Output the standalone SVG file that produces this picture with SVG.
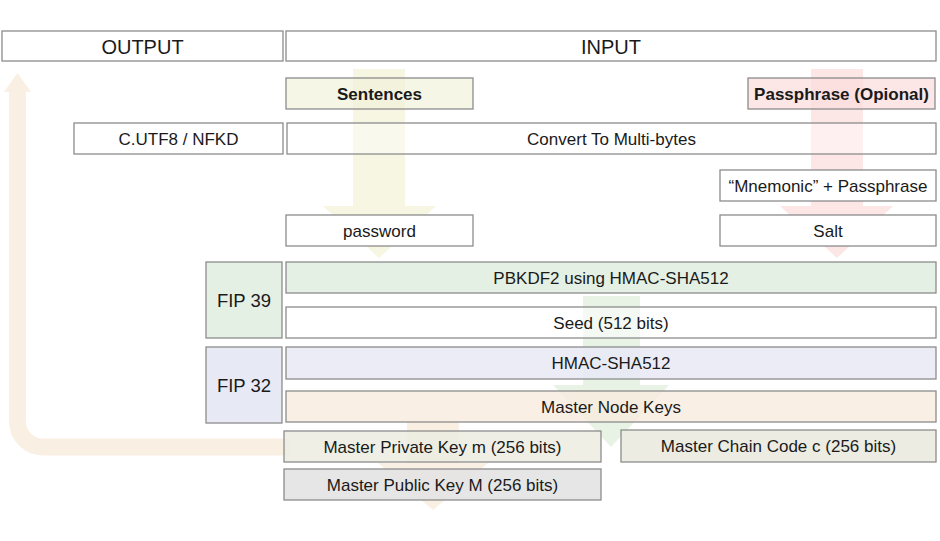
<svg xmlns="http://www.w3.org/2000/svg" width="940" height="541" viewBox="0 0 940 541">
<style>
  .box { stroke: #8c8c8c; stroke-width: 1.3; }
  .t { font-family: "Liberation Sans", Arial, sans-serif; font-size: 17px; fill: #1a1a1a; text-anchor: middle; }
  .big { font-size: 20px; }
  .fip { font-size: 18.5px; }
  .b { font-weight: bold; }
</style>
<rect width="940" height="541" fill="#ffffff"/>
<g id="connectors">
  <polygon id="arrow-sentences" points="353,69 405,69 405,206 436,206 379,258 323,206 353,206" fill="#f6f6e2"/>
  <polygon id="arrow-passphrase" points="811,69 863,69 863,206 893,206 837,258 780,206 811,206" fill="#fde6e6"/>
  <polygon id="arrow-seed" points="583,296 640,296 640,385 669,385 611,447 553,385 583,385" fill="#e8f3e6"/>
  <polygon id="arrow-keys" points="407,422 459,422 459,463 488,463 433,510 378,463 407,463" fill="#f9efe3"/>
  <path id="arrow-output" d="M 290 447 H 43 A 25.5 25.5 0 0 1 17.5 421.5 V 90" fill="none" stroke="#f9efe3" stroke-width="17"/>
  <polygon points="4,92 31,92 17.5,73" fill="#f9efe3"/>
</g>
<g id="output"><rect class="box" x="2" y="31" width="281" height="30" fill="#ffffff"/><text class="t big" x="142.5" y="53.5">OUTPUT</text></g>
<g id="input"><rect class="box" x="286" y="31" width="650" height="30" fill="#ffffff"/><text class="t big" x="611" y="53.5">INPUT</text></g>
<g id="sentences"><rect class="box" x="286" y="78" width="187" height="31" fill="#f2f2dc" fill-opacity="0.7"/><text class="t b" x="379.5" y="99.5">Sentences</text></g>
<g id="passphrase"><rect class="box" x="748" y="78" width="187" height="31" fill="#fbdede" fill-opacity="0.75"/><text class="t b" x="841.5" y="99.5">Passphrase (Opional)</text></g>
<g id="cutf8"><rect class="box" x="74" y="123" width="209" height="31" fill="#ffffff"/><text class="t" x="178.5" y="144.5">C.UTF8 / NFKD</text></g>
<g id="convert"><rect class="box" x="287" y="123" width="649" height="31" fill="#ffffff" fill-opacity="0.4"/><text class="t" x="611.5" y="144.5">Convert To Multi-bytes</text></g>
<g id="mnemonic"><rect class="box" x="720" y="170" width="216" height="31" fill="#ffffff"/><text class="t" x="828" y="191.5">“Mnemonic” + Passphrase</text></g>
<g id="password"><rect class="box" x="286" y="215" width="187" height="31" fill="#ffffff"/><text class="t" x="379.5" y="236.5">password</text></g>
<g id="salt"><rect class="box" x="720" y="215" width="216" height="31" fill="#ffffff"/><text class="t" x="828" y="236.5">Salt</text></g>
<g id="fip39"><rect class="box" x="206" y="262" width="76" height="76" fill="#e5f0e4"/><text class="t fip" x="244" y="306.5">FIP 39</text></g>
<g id="pbkdf2"><rect class="box" x="286" y="262" width="650" height="31" fill="#e5f0e4"/><text class="t" x="611" y="283.5">PBKDF2 using HMAC-SHA512</text></g>
<g id="seed"><rect class="box" x="286" y="307" width="650" height="31" fill="#ffffff" fill-opacity="0.5"/><text class="t" x="611" y="328.5">Seed (512 bits)</text></g>
<g id="fip32"><rect class="box" x="206" y="347" width="76" height="76" fill="#e7e9f5"/><text class="t fip" x="244" y="391.5">FIP 32</text></g>
<g id="hmac"><rect class="box" x="286" y="347" width="650" height="32" fill="#e7e9f5" fill-opacity="0.85"/><text class="t" x="611" y="369">HMAC-SHA512</text></g>
<g id="masternode"><rect class="box" x="286" y="391" width="650" height="31" fill="#f7ebdf" fill-opacity="0.8"/><text class="t" x="611" y="412.5">Master Node Keys</text></g>
<g id="privatekey"><rect class="box" x="284" y="431" width="317" height="31" fill="#ececE2" fill-opacity="0.85"/><text class="t" x="442.5" y="452.5">Master Private Key m (256 bits)</text></g>
<g id="chaincode"><rect class="box" x="621" y="430" width="315" height="32" fill="#ececE2"/><text class="t" x="778.5" y="452">Master Chain Code c (256 bits)</text></g>
<g id="publickey"><rect class="box" x="284" y="469" width="317" height="31" fill="#e3e3e3" fill-opacity="0.9"/><text class="t" x="442.5" y="490.5">Master Public Key M (256 bits)</text></g>
</svg>
